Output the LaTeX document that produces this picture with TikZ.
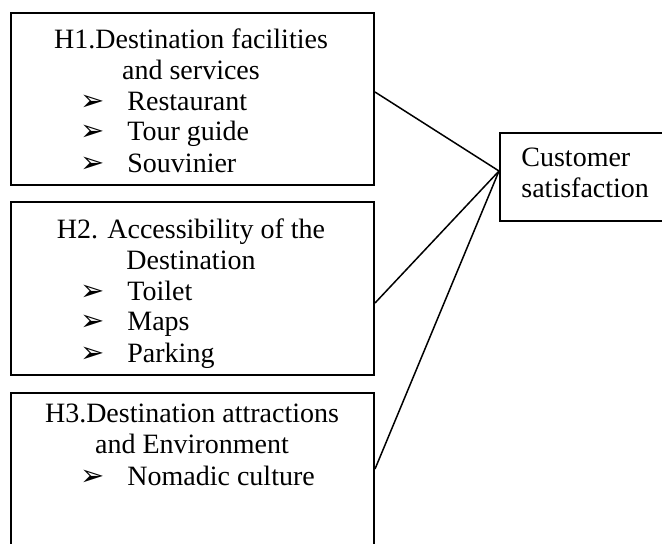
\documentclass[tikz,border=0pt]{standalone}
\usepackage{fontspec}
\setmainfont{Liberation Serif}
\newfontfamily\symfont{DejaVu Sans}
\usepackage{tikz}
\usetikzlibrary{positioning}

% arrow bullet in front of each factor
\newcommand{\bul}{\makebox[23.5pt][l]{\symfont\fontsize{14.5}{15}\selectfont ➢}}

\begin{document}
\begin{tikzpicture}[x=0.5pt, y=-0.5pt,
        every node/.style={font=\fontsize{14}{15.5}\selectfont},
        hbox/.style={rectangle, draw, line width=1pt, anchor=north west, inner sep=0pt, minimum width=181.5pt},
        head/.style={anchor=north, align=center, inner sep=0pt},
        item/.style={anchor=base west, inner sep=0pt},
        link/.style={line width=0.75pt}]

        \useasboundingbox (0,0) rectangle (662,543);
        \clip (0,0) rectangle (662,543);

        % hypothesis boxes
        \node (h1box) [hbox, minimum height=86pt] at (10,12) {};
        \node (h2box) [hbox, minimum height=86.5pt] at (10,201) {};
        \node (h3box) [hbox, minimum height=90pt] at (10,392) {};
        \node (satbox) [hbox, minimum width=100pt, minimum height=44pt] at (499,132) {};

        \node (h1head) [head] at (191,28) {H1.Destination facilities\\and services};
        \node (h1a) [item] at (80,110) {\bul Restaurant};
        \node (h1b) [item] at (80,140) {\bul Tour guide};
        \node (h1c) [item] at (80,172) {\bul Souvinier};

        \node (h2head) [head] at (191,218) {H2. Accessibility of the\\Destination};
        \node (h2a) [item] at (80,300) {\bul Toilet};
        \node (h2b) [item] at (80,330) {\bul Maps};
        \node (h2c) [item] at (80,362) {\bul Parking};

        \node (h3head) [head] at (192,404) {H3.Destination attractions\\and Environment};
        \node (h3a) [item] at (80,485) {\bul Nomadic culture};

        \node (sattext) [anchor=north west, align=left, inner sep=0pt] at (521,148) {Customer\\satisfaction};

        % links to customer satisfaction
        \coordinate (join) at ([yshift=3pt]satbox.west);
        \draw[link] ([yshift=3.5pt]h1box.east) -- (join);
        \draw[link] ([yshift=-7.25pt]h2box.east) -- (join);
        \draw[link] ([yshift=7pt]h3box.east) -- (join);
\end{tikzpicture}
\end{document}
